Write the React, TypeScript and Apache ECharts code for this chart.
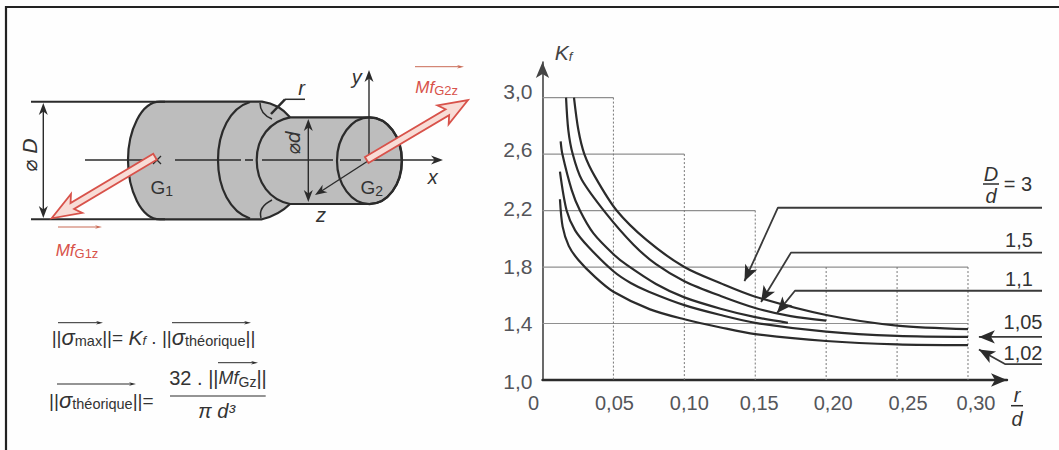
import React, { useEffect, useRef } from "react";
import * as echarts from "echarts";

// ---- chart data ----
const xTickValues = [0, 0.05, 0.1, 0.15, 0.2, 0.25, 0.3];
const xTickLabels = ["0", "0,05", "0,10", "0,15", "0,20", "0,25", "0,30"];
const yTickValues = [1, 1.4, 1.8, 2.2, 2.6, 3];
const yTickLabels = ["1,0", "1,4", "1,8", "2,2", "2,6", "3,0"];

const curveD3 = [[0.0222,3],[0.0253,2.77],[0.0295,2.6],[0.037,2.44],[0.0523,2.2],[0.0735,1.99],[0.1,1.8],[0.1256,1.685],[0.15,1.59],[0.2,1.46],[0.25,1.385],[0.3,1.36]];
const curveD15 = [[0.0166,3],[0.0182,2.77],[0.0213,2.6],[0.0276,2.42],[0.0448,2.18],[0.064,1.96],[0.08,1.82],[0.1,1.7],[0.1256,1.595],[0.15,1.51],[0.175,1.452],[0.2,1.42]];
const curveD11 = [[0.0128,2.69],[0.014,2.6],[0.0206,2.345],[0.0264,2.2],[0.0358,2.04],[0.0506,1.885],[0.0594,1.815],[0.08,1.68],[0.1,1.585],[0.1256,1.505],[0.15,1.445],[0.173,1.405]];
const curveD105 = [[0.0123,2.475],[0.017,2.2],[0.023,2.06],[0.0323,1.944],[0.05,1.77],[0.0625,1.685],[0.075,1.625],[0.1,1.53],[0.1256,1.46],[0.15,1.405],[0.2,1.342],[0.25,1.312],[0.3,1.305]];
const curveD102 = [[0.0123,2.28],[0.0142,2.086],[0.0185,1.95],[0.0253,1.85],[0.037,1.73],[0.05,1.625],[0.0758,1.5],[0.1,1.43],[0.1256,1.372],[0.15,1.325],[0.2,1.276],[0.25,1.252],[0.3,1.247]];

const gridH = [[3,0.05],[2.6,0.1],[2.2,0.15],[1.8,0.3],[1.4,0.3]];
const gridV = [[0.05,3],[0.1,2.6],[0.15,2.2],[0.2,1.8],[0.25,1.8],[0.3,1.8]];

const leaderD3 = [[0.3522,2.22],[0.166,2.22],[0.1424,1.7]];
const leaderD15 = [[0.3522,1.902],[0.1752,1.902],[0.1541,1.552]];
const leaderD11 = [[0.3522,1.632],[0.178,1.632],[0.1653,1.474]];
const leaderD105 = [[0.3522,1.305],[0.3077,1.305]];
const leaderD102 = [[0.3522,1.113],[0.3261,1.113],[0.3077,1.216]];
const leaderAngles = [155, 149, 139, 90, 61];

const ink = "#2b2b2b";
const red = "#d8524a";
const font = "'Liberation Sans', Arial, sans-serif";

function fatArrow(x0: number, y0: number, x1: number, y1: number, half = 3.5, headW = 11, headL = 20) {
  const L = Math.hypot(x1 - x0, y1 - y0);
  const ux = (x1 - x0) / L, uy = (y1 - y0) / L, nx = -uy, ny = ux;
  const b2x = x1 - ux * (headL + 4), b2y = y1 - uy * (headL + 4);
  const b3x = x1 - ux * (headL + 9), b3y = y1 - uy * (headL + 9);
  return [
    [x0 + nx * half, y0 + ny * half],
    [b2x + nx * half, b2y + ny * half],
    [b3x + nx * headW, b3y + ny * headW],
    [x1, y1],
    [b3x - nx * headW, b3y - ny * headW],
    [b2x - nx * half, b2y - ny * half],
    [x0 - nx * half, y0 - ny * half],
  ];
}
const line = (x1: number, y1: number, x2: number, y2: number, w = 1.5, c = ink) => ({
  type: "line", silent: true, shape: { x1, y1, x2, y2 }, style: { stroke: c, lineWidth: w },
});
function head(x: number, y: number, dx: number, dy: number, size = 12, w = 4.5, c = ink) {
  const nx = -dy, ny = dx;
  return {
    type: "polygon", silent: true,
    shape: { points: [[x, y], [x - dx * size + nx * w, y - dy * size + ny * w], [x - dx * size * 0.7, y - dy * size * 0.7], [x - dx * size - nx * w, y - dy * size - ny * w]] },
    style: { fill: c },
  };
}
const txt = (x: number, y: number, text: string, o: any = {}, rot = 0) => ({
  type: "text", silent: true, x, y, rotation: rot,
  style: { text, fontFamily: font, fontSize: 18, fill: "#333", align: "center", verticalAlign: "middle", ...o },
});
const sub = (fs = 14, extra: any = {}) => ({ fontFamily: font, fontSize: fs, fill: "#333", padding: [7, 0, 0, 0], ...extra });
const it = (fs = 19, extra: any = {}) => ({ fontFamily: font, fontSize: fs, fontStyle: "italic", fill: "#333", ...extra });

echarts.graphic.registerShape("bigBody", echarts.graphic.extendPath("M160 101.7 L262 101.7 Q279 104 290 117.3 L369 117.3 C388 117.3 401.7 137 401.7 160.7 C401.7 184 388 204 369 204 L290 204 Q279 215 262 219.3 L160 219.3 C141 219.3 128 190 128 160 C128 131 141 101.7 160 101.7 Z", {}));
echarts.graphic.registerShape("midArc", echarts.graphic.extendPath("M250 102 C230 108 218 132 218 160 C218 188 230 212 250 218.5", {}));
echarts.graphic.registerShape("smallArc", echarts.graphic.extendPath("M290 117.3 C270 121 256.7 138 256.7 160 C256.7 183 270 200 290 204", {}));
echarts.graphic.registerShape("filletTop", echarts.graphic.extendPath("M260 103 Q260 114 272 119", {}));
echarts.graphic.registerShape("filletBot", echarts.graphic.extendPath("M261 218 Q258 207 272 200", {}));

const strokeStyle = { stroke: ink, lineWidth: 2.2, fill: "none" };

const drawing: any[] = [
  // page frame
  line(5.5, 7, 1059, 7, 2.2, "#222"),
  line(6, 6, 6, 450, 2.2, "#222"),
  // body
  { type: "bigBody", silent: true, style: { fill: "#bdbdbd", stroke: ink, lineWidth: 2.2 } },
  { type: "midArc", silent: true, style: strokeStyle },
  { type: "smallArc", silent: true, style: strokeStyle },
  { type: "filletTop", silent: true, style: { ...strokeStyle, lineWidth: 1.5 } },
  { type: "filletBot", silent: true, style: { ...strokeStyle, lineWidth: 1.5 } },
  { type: "ellipse", silent: true, shape: { cx: 369.5, cy: 160.7, rx: 32.5, ry: 43.4 }, style: { fill: "none", stroke: ink, lineWidth: 2.2 } },
  // extension lines
  line(31, 101.7, 165, 101.7, 2), line(31, 219.3, 165, 219.3, 2),
  // r leader
  line(285, 99.3, 305, 99.3, 1.5), line(285, 99.3, 271, 114, 2.5),
  // centre line
  line(85, 160, 157, 160, 1.6), line(175, 160, 241, 160, 1.6), line(245, 160, 253, 160, 1.6), line(262, 160, 333, 160, 1.6), line(340, 160, 361, 160, 1.6), line(368, 160, 440, 160, 1.6),
  head(443, 160, 1, 0),
  line(153, 156, 161, 164, 1.2), line(153, 164, 161, 156, 1.2),
  // y and z axes
  line(369, 160, 369, 75, 1.4), head(369, 70, 0, -1),
  line(369.5, 160, 320, 192, 1.4), head(315, 195, -0.84, 0.54),
  // diameters
  line(308.3, 125, 308.3, 196, 1.4), head(308.3, 119, 0, -1), head(308.3, 202, 0, 1),
  line(43.3, 110, 43.3, 212, 1.4), head(43.3, 103, 0, -1), head(43.3, 218, 0, 1),
  // red moment arrows
  { type: "polygon", silent: true, shape: { points: fatArrow(155, 156.7, 51.7, 218.3) }, style: { fill: "#f8dcd6", stroke: red, lineWidth: 1.8 } },
  { type: "polygon", silent: true, shape: { points: fatArrow(366.7, 160, 468, 100) }, style: { fill: "#f8dcd6", stroke: red, lineWidth: 1.8 } },
  // drawing labels
  txt(301.7, 88, "r", { fontStyle: "italic", fontSize: 20 }),
  txt(356.7, 76.7, "y", { fontStyle: "italic", fontSize: 20 }),
  txt(432.7, 176.7, "x", { fontStyle: "italic", fontSize: 20 }),
  txt(321, 215, "z", { fontStyle: "italic", fontSize: 20 }),
  txt(30, 155, "⌀ D", { fontStyle: "italic", fontSize: 20, fontFamily: "'DejaVu Sans'" }, Math.PI / 2),
  txt(292.7, 143, "⌀d", { fontStyle: "italic", fontSize: 19, fontFamily: "'DejaVu Sans'" }, Math.PI / 2),
  txt(161.7, 187, "{n|G}{s|1}", { rich: { n: { fontFamily: font, fontSize: 19, fill: "#333" }, s: sub(14) } }),
  txt(371.7, 187, "{n|G}{s|2}", { rich: { n: { fontFamily: font, fontSize: 19, fill: "#333" }, s: sub(14) } }),
  txt(436.7, 87, "{m|Mf}{s|G2z}", { rich: { m: it(17, { fill: red }), s: sub(13, { fill: red }) } }),
  line(415, 66.7, 461, 66.7, 1, "#c96a55"), head(464, 66.7, 1, 0, 7, 1.8, "#c96a55"),
  txt(77, 250, "{m|Mf}{s|G1z}", { rich: { m: it(17, { fill: red }), s: sub(13, { fill: red }) } }),
  line(58, 227, 98, 227, 1, "#c96a55"), head(102, 227, 1, 0, 7, 1.8, "#c96a55"),
  // formula 1
  txt(153.5, 337, "{n|||}{g|σ}{s|max}{n|||= }{k|K}{f|f}{n| . ||}{g|σ}{s|théorique}{n|||}", {
    rich: { n: { fontFamily: font, fontSize: 19, fill: "#333" }, g: it(22), k: it(21), f: it(13, { padding: [6, 0, 0, 0] }), s: sub(14.5) },
  }),
  line(58, 322.7, 100, 322.7, 1), head(103, 322.7, 1, 0, 7, 1.8),
  line(172, 322.7, 247, 322.7, 1), head(251, 322.7, 1, 0, 7, 1.8),
  // formula 2
  txt(104, 400, "{n|||}{g|σ}{s|théorique}{n|||= }", {
    rich: { n: { fontFamily: font, fontSize: 19, fill: "#333" }, g: it(22), s: sub(14.5) },
  }),
  line(57, 384, 132, 384, 1), head(136, 384, 1, 0, 7, 1.8),
  txt(218, 378, "{n|32 . ||}{m|Mf}{s|Gz}{n|||}", {
    rich: { n: { fontFamily: font, fontSize: 20, fill: "#333" }, m: it(18), s: sub(14) },
  }),
  line(218, 362.7, 254, 362.7, 1), head(258, 362.7, 1, 0, 7, 1.8),
  line(170, 396, 265.7, 396, 1.2),
  txt(216.7, 411, "π d³", { fontStyle: "italic", fontSize: 20 }),
  // curve labels
  txt(991, 174, "D", { fontStyle: "italic", fontSize: 20 }),
  line(983, 184, 999, 184, 1.5),
  txt(991, 196, "d", { fontStyle: "italic", fontSize: 20 }),
  txt(1018, 184, "= 3", { fontSize: 20 }),
  txt(1019, 240, "1,5", { fontSize: 20 }),
  txt(1019, 279, "1,1", { fontSize: 20 }),
  txt(1023, 322, "1,05", { fontSize: 20 }),
  txt(1023, 353, "1,02", { fontSize: 20 }),
  // x axis name
  txt(1017, 395, "r", { fontStyle: "italic", fontSize: 20 }),
  line(1011, 405.7, 1023, 405.7, 1.5),
  txt(1017, 419, "d", { fontStyle: "italic", fontSize: 20 }),
];

const xPad = [-18, 2, 10, 8, 14, 22, 16];
const yPad = [-2, 0, 2, 4, 10, 12];
const xRich: any = {};
xPad.forEach((p, i) => {
  xRich["x" + i] = { fontFamily: font, fontSize: 20, fill: "#333", padding: p >= 0 ? [0, 0, 0, p] : [0, -p, 0, 0] };
});
const yRich: any = {};
yPad.forEach((p, i) => {
  yRich["y" + i] = { fontFamily: font, fontSize: 21, fill: "#333", padding: p >= 0 ? [0, 0, p, 0] : [-p, 0, 0, 0] };
});
const nearest = (list: number[], v: number) => list.reduce((b, t, i) => (Math.abs(t - v) < Math.abs(list[b] - v) ? i : b), 0);

const curve = (name: string, data: number[][]) => ({
  name, type: "line", data, smooth: 0.3, symbol: "none", z: 5, lineStyle: { color: ink, width: 2.2 },
});
const leader = (name: string, pts: number[][], angle: number) => ({
  name, type: "line", xAxisIndex: 1, yAxisIndex: 1, z: 6, symbol: "none", showSymbol: true, lineStyle: { color: "#3a3a3a", width: 1.8 },
  itemStyle: { color: "#2b2b2b" },
  data: pts.map((p, i) => i === pts.length - 1
    ? { value: p, symbol: "arrow", symbolSize: [10, 16], symbolRotate: angle }
    : { value: p, symbol: "none" }),
});

export default function App() {
  const ref = useRef<HTMLDivElement>(null);
  useEffect(() => {
    const chart = echarts.init(ref.current!, null, { renderer: "svg" });
    const hSeries = gridH.map(([y, x], i) => ({
      name: "gridH" + i, type: "line", symbol: "none", z: 1, data: [[0, y], [x, y]], lineStyle: { color: "#8f8f8f", width: 1.2 },
    }));
    const vSeries = gridV.map(([x, y], i) => ({
      name: "gridV" + i, type: "line", symbol: "none", z: 1, data: [[x, y], [x, 1]], lineStyle: { color: "#777", width: 1, type: [2, 2] },
    }));
    chart.setOption({
      animation: false,
      backgroundColor: "#fefefe",
      grid: [
        { left: 542.5, right: 52, top: 62, bottom: 70 },
        { left: 542.5, right: 17, top: 62, bottom: 70 },
      ],
      xAxis: [{
        type: "value", min: 0, max: 0.3275, splitLine: { show: false }, axisTick: { show: false },
        axisLine: { show: true, onZero: false, symbol: ["none", "arrow"], symbolSize: [10, 16], lineStyle: { color: ink, width: 2.4 } },
        axisLabel: {
          customValues: xTickValues, margin: 13, showMinLabel: true, showMaxLabel: true,
          formatter: (v: number) => { const i = nearest(xTickValues, v); return `{x${i}|${xTickLabels[i]}}`; }, rich: xRich,
        },
      }, {
        type: "value", gridIndex: 1, min: 0, max: 0.3522, show: false,
      }],
      yAxis: [{
        type: "value", min: 1, max: 3.252, splitLine: { show: false }, axisTick: { show: false },
        axisLine: { show: true, onZero: false, symbol: ["none", "arrow"], symbolSize: [10, 16], lineStyle: { color: "#444", width: 1.6 } },
        name: "{k|K}{f|f}", nameLocation: "end", nameGap: -1,
        nameTextStyle: { rich: { k: it(21), f: it(13, { padding: [8, 0, 0, 0] }) }, padding: [0, 0, 0, 42] },
        axisLabel: {
          customValues: yTickValues, margin: 10,
          formatter: (v: number) => { const i = nearest(yTickValues, v); return `{y${i}|${yTickLabels[i]}}`; }, rich: yRich,
        },
      }, {
        type: "value", gridIndex: 1, min: 1, max: 3.252, show: false,
      }],
      series: [
        ...hSeries, ...vSeries,
        curve("D/d = 3", curveD3), curve("1,5", curveD15), curve("1,1", curveD11), curve("1,05", curveD105), curve("1,02", curveD102),
        leader("leader 3", leaderD3, leaderAngles[0]), leader("leader 1,5", leaderD15, leaderAngles[1]), leader("leader 1,1", leaderD11, leaderAngles[2]),
        leader("leader 1,05", leaderD105, leaderAngles[3]), leader("leader 1,02", leaderD102, leaderAngles[4]),
      ],
      graphic: { elements: drawing },
    });
    return () => chart.dispose();
  }, []);
  return <div ref={ref} style={{ position: "absolute", left: 0, top: 0, width: 1059, height: 450 }} />;
}
